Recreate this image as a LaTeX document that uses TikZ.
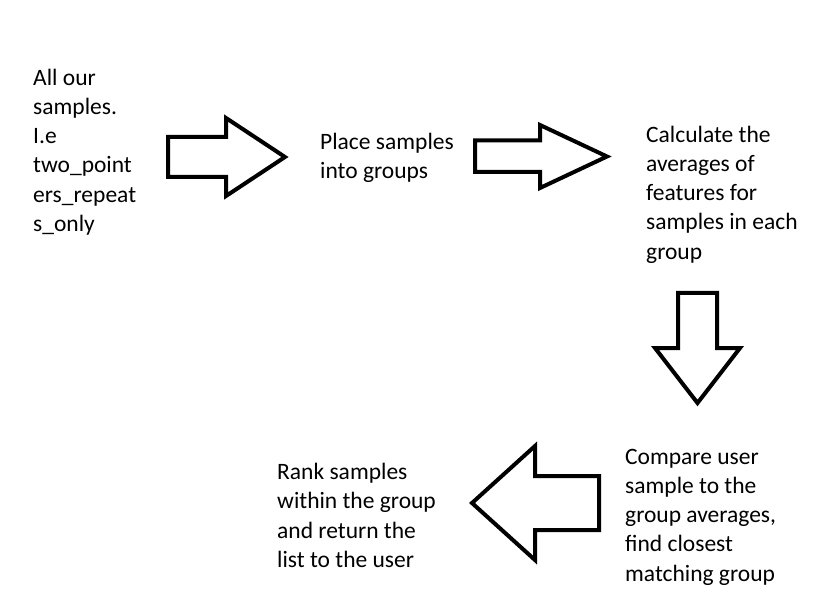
\documentclass[tikz,border=0pt]{standalone}
\usepackage{fontspec}
\setmainfont{Carlito}

\tikzset{
  steptext/.style={anchor=north west, inner sep=0pt, align=left,
    font=\fontsize{23.5}{29.2}\selectfont},
  blockarrow/.style={draw=black, line width=4pt, fill=white, line join=miter},
}

\begin{document}
\begin{tikzpicture}[x=1pt, y=-1pt]
      \useasboundingbox[fill=white] (0,0) rectangle (830,612);
      % step texts
      \node[steptext] (all) at (33,64.6) {\strut All our\\samples.\\I.e\\two\_point\\ers\_repeat\\s\_only};
      \node[steptext] (place) at (320,128.6) {\strut Place samples\\into groups};
      \node[steptext] (calc) at (646,121.6) {\strut Calculate the\\averages of\\features for\\samples in each\\group};
      \node[steptext] (compare) at (625,443.6) {\strut Compare user\\sample to the\\group averages,\\find closest\\matching group};
      \node[steptext] (rank) at (277,459) {\strut Rank samples\\within the group\\and return the\\list to the user};
      % block arrows
      \draw[blockarrow] (168,137) -- (226,137) -- (226,118) -- (285,157)
        -- (226,196) -- (226,177) -- (168,177) -- cycle;
      \draw[blockarrow] (475,140.5) -- (540,140.5) -- (540,125) -- (607,156.5)
        -- (540,188) -- (540,172) -- (475,172) -- cycle;
      \draw[blockarrow] (678,293) -- (678,348) -- (655,348) -- (697.5,403)
        -- (740,348) -- (717,348) -- (717,293) -- cycle;
      \draw[blockarrow] (599,476) -- (535,476) -- (535,446) -- (472,503)
        -- (535,560) -- (535,530) -- (599,530) -- cycle;
    \end{tikzpicture}
\end{document}
